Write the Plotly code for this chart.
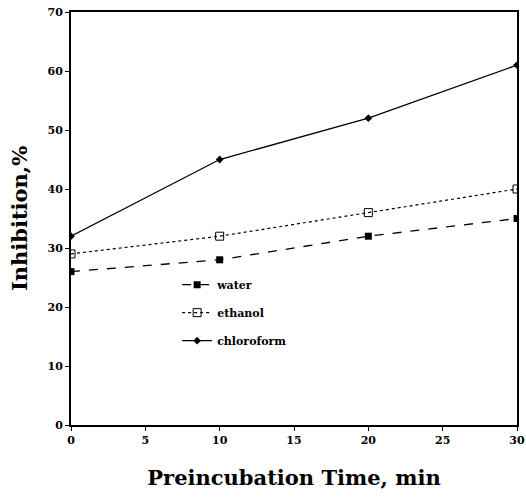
import plotly.graph_objects as go

time_min = [0, 10, 20, 30]
water = [26, 28, 32, 35]
ethanol = [29, 32, 36, 40]
chloroform = [32, 45, 52, 61]
x_ticks = [0, 5, 10, 15, 20, 25, 30]
y_ticks = [0, 10, 20, 30, 40, 50, 60, 70]

serif = "DejaVu Serif"
fig = go.Figure()
fig.add_trace(go.Scatter(x=time_min, y=water, name="water", mode="lines+markers",
                         legendgroup="a",
                         line=dict(color="black", width=1.3, dash="dash"),
                         marker=dict(symbol="square", size=7, color="black")))
fig.add_trace(go.Scatter(x=time_min, y=ethanol, name="ethanol", mode="lines+markers",
                         legendgroup="b",
                         line=dict(color="black", width=1.2, dash="dot"),
                         marker=dict(symbol="square-open", size=8, color="black", line=dict(width=1))))
fig.add_trace(go.Scatter(x=time_min, y=chloroform, name="chloroform", mode="lines+markers",
                         legendgroup="c",
                         line=dict(color="black", width=1.3),
                         marker=dict(symbol="diamond", size=6, color="black")))

axis_common = dict(showline=True, linecolor="black", linewidth=2, mirror=True,
                   ticks="outside", ticklen=4, tickcolor="black", showgrid=False,
                   zeroline=False, ticklabeloverflow="allow", automargin=False,
                   tickfont=dict(family=serif, size=11, color="black", weight="bold"))
fig.update_layout(
    width=526, height=500,
    margin=dict(l=71, r=9, t=12, b=75),
    paper_bgcolor="white", plot_bgcolor="white",
    xaxis=dict(range=[0, 30], tickvals=x_ticks,
               title=dict(text="Preincubation Time, min", standoff=24,
                          font=dict(family=serif, size=21, color="black", weight="bold")),
               **axis_common),
    yaxis=dict(range=[0, 70], tickvals=y_ticks,
               title=dict(text="Inhibition,%", standoff=14,
                          font=dict(family=serif, size=21, color="black", weight="bold")),
               **axis_common),
    legend=dict(x=0.238, y=0.375, xanchor="left", yanchor="top", bgcolor="rgba(0,0,0,0)",
                font=dict(family=serif, size=11, color="black", weight="bold"),
                tracegroupgap=9),
    showlegend=True,
)
fig.write_html("out.html")
